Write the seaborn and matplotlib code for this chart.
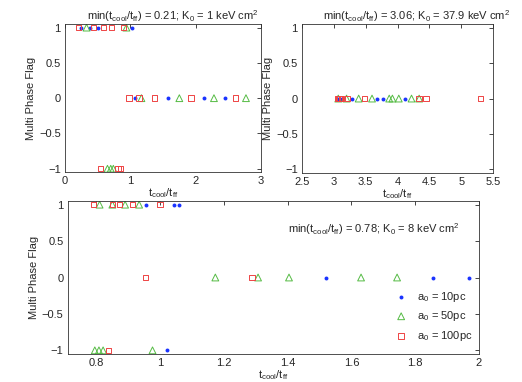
import matplotlib
matplotlib.use("Agg")
import matplotlib.pyplot as plt
from matplotlib.ticker import FuncFormatter
import seaborn as sns

# Panel 1: K0 = 1 keV cm^2
p1_10pc_x = [0.25, 0.38, 0.50, 1.03, 1.07, 1.57, 2.12, 2.45]
p1_10pc_y = [1, 1, 1, 1, 0, 0, 0, 0]
p1_50pc_x = [0.33, 0.94, 0.65, 0.70, 0.74, 1.17, 1.75, 2.28, 2.77]
p1_50pc_y = [1, 1, -1, -1, -1, 0, 0, 0, 0]
p1_100pc_x = [0.21, 0.44, 0.59, 0.71, 0.90, 0.54, 0.81, 0.85, 0.98, 1.13, 1.37, 1.93, 2.61]
p1_100pc_y = [1, 1, 1, 1, 1, -1, -1, -1, 0, 0, 0, 0, 0]

# Panel 2: K0 = 37.9 keV cm^2 (all flags are 0)
p2_10pc_x = [3.06, 3.09, 3.13, 3.28, 3.68, 3.78, 4.12]
p2_50pc_x = [3.07, 3.20, 3.39, 3.60, 3.87, 3.92, 4.02, 4.22, 4.34]
p2_100pc_x = [3.06, 3.08, 3.10, 3.12, 3.21, 3.48, 4.34, 4.45, 5.30]

# Panel 3: K0 = 8 keV cm^2
p3_10pc_x = [0.955, 1.044, 1.059, 1.022, 1.519, 1.857, 1.969]
p3_10pc_y = [1, 1, 1, -1, 0, 0, 0]
p3_50pc_x = [0.81, 0.85, 0.89, 0.934, 0.795, 0.808, 0.821, 0.976, 1.173, 1.307, 1.404, 1.63, 1.743]
p3_50pc_y = [1, 1, 1, 1, -1, -1, -1, -1, 0, 0, 0, 0, 0]
p3_100pc_x = [0.79, 0.85, 0.873, 0.913, 0.999, 0.837, 0.954, 1.288]
p3_100pc_y = [1, 1, 1, 1, 1, -1, 0, 0]

labels = ["a$_0$ = 10pc", "a$_0$ = 50pc", "a$_0$ = 100pc"]
titles = [
    "min(t$_\\mathrm{cool}$/t$_\\mathrm{ff}$) = 0.21; K$_0$ = 1 keV cm$^2$",
    "min(t$_\\mathrm{cool}$/t$_\\mathrm{ff}$) = 3.06; K$_0$ = 37.9 keV cm$^2$",
    "min(t$_\\mathrm{cool}$/t$_\\mathrm{ff}$) = 0.78; K$_0$ = 8 keV cm$^2$",
]

sns.set_style("white")
plt.rcParams["font.family"] = ["Liberation Sans", "DejaVu Sans"]
plt.rcParams["mathtext.fontset"] = "custom"
plt.rcParams["mathtext.rm"] = "Liberation Sans"
plt.rcParams["mathtext.it"] = "Liberation Sans:italic"
plt.rcParams["font.size"] = 8

BLUE = "#1a33ff"
GREEN = "#55bb44"
RED = "#ee4444"

fmt = FuncFormatter(lambda v, _: f"{v:g}".replace("-", "\u2212"))


def draw(ax, xs, ys):
    (x10, y10), (x50, y50), (x100, y100) = zip(xs, ys)
    sns.scatterplot(x=x10, y=y10, ax=ax, marker="o", s=8, color=BLUE,
                    linewidth=0, label=labels[0])
    sns.scatterplot(x=x50, y=y50, ax=ax, marker="^", s=24, facecolor="none",
                    edgecolor=GREEN, linewidth=0.7, label=labels[1])
    sns.scatterplot(x=x100, y=y100, ax=ax, marker="s", s=15, facecolor="none",
                    edgecolor=RED, linewidth=0.7, label=labels[2])


def style(ax):
    ax.set_ylim(-1.05, 1.05)
    ax.set_yticks([-1, -0.5, 0, 0.5, 1])
    ax.xaxis.set_major_formatter(fmt)
    ax.yaxis.set_major_formatter(fmt)
    ax.tick_params(direction="in", top=True, right=True, length=3,
                   width=0.6, labelsize=8, pad=3)
    for s in ax.spines.values():
        s.set_linewidth(0.6)
        s.set_color("#333333")
    ax.set_xlabel("t$_\\mathrm{cool}$/t$_\\mathrm{ff}$", fontsize=8, labelpad=0)
    ax.set_ylabel("Multi Phase Flag", fontsize=8, labelpad=2)


fig = plt.figure(figsize=(5.22, 3.82), dpi=100)
ax1 = fig.add_axes([0.1245, 0.549, 0.3755, 0.388])
ax2 = fig.add_axes([0.5785, 0.547, 0.366, 0.39])
ax3 = fig.add_axes([0.1297, 0.0733, 0.788, 0.4005])

draw(ax1, [p1_10pc_x, p1_50pc_x, p1_100pc_x], [p1_10pc_y, p1_50pc_y, p1_100pc_y])
draw(ax2, [p2_10pc_x, p2_50pc_x, p2_100pc_x],
     [[0] * len(p2_10pc_x), [0] * len(p2_50pc_x), [0] * len(p2_100pc_x)])
draw(ax3, [p3_10pc_x, p3_50pc_x, p3_100pc_x], [p3_10pc_y, p3_50pc_y, p3_100pc_y])

for ax in (ax1, ax2, ax3):
    style(ax)

ax1.set_xlim(0, 3)
ax1.set_xticks([0, 1, 2, 3])
ax1.set_title(titles[0], fontsize=8, x=0.55, pad=3)
ax1.get_legend().remove()

ax2.set_xlim(2.5, 5.5)
ax2.set_xticks([2.5, 3, 3.5, 4, 4.5, 5, 5.5])
ax2.set_title(titles[1], fontsize=8, x=0.6, pad=3)
ax2.get_legend().remove()

ax3.set_xlim(0.71, 2.0)
ax3.set_xticks([0.8, 1, 1.2, 1.4, 1.6, 1.8, 2])
ax3.text(1.67, 0.66, titles[2], ha="center", va="center", fontsize=8)
ax3.legend(loc="lower right", bbox_to_anchor=(1.0, 0.03), frameon=False,
           fontsize=8, handletextpad=0.4, labelspacing=0.5, borderaxespad=0.2)

fig.savefig("out.png", dpi=100)
